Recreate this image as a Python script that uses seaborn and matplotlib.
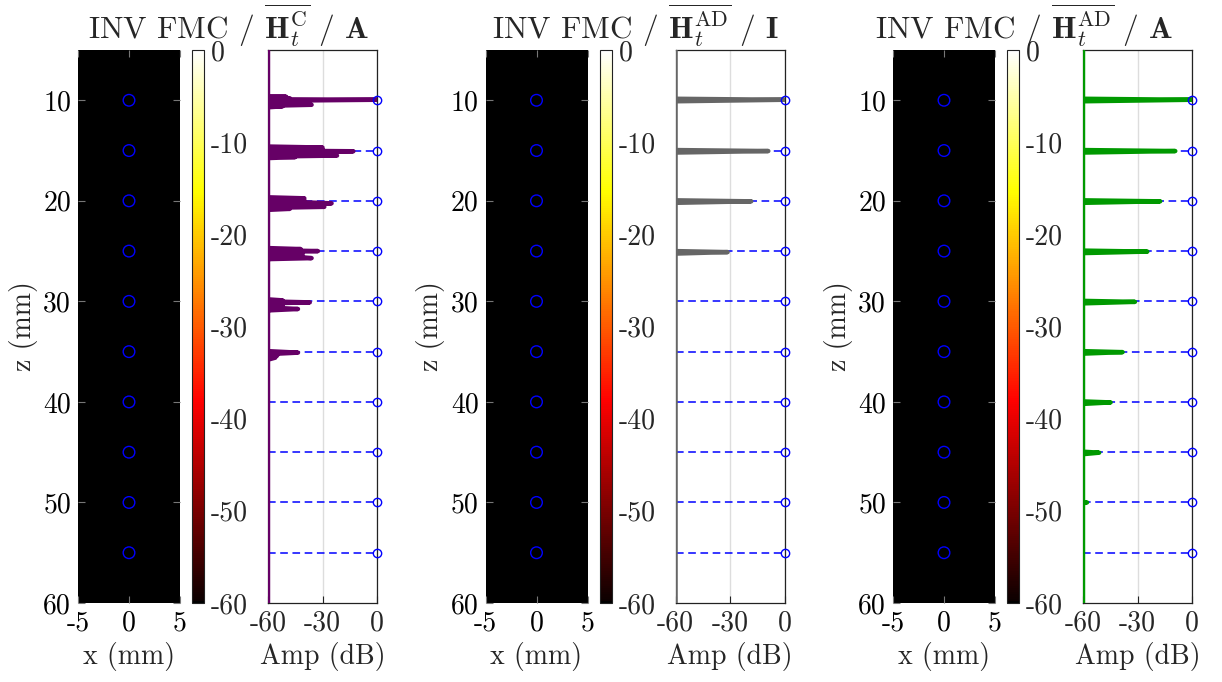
import numpy as np
import pandas as pd
import matplotlib
matplotlib.use("Agg")
import matplotlib.pyplot as plt
from matplotlib.colors import ListedColormap
import seaborn as sns

# ---------------- data ----------------
scatterer_z = [10, 15, 20, 25, 30, 35, 40, 45, 50, 55]
scatterer_x = [0] * len(scatterer_z)

titles = [
    r"INV FMC / $\overline{\mathbf{H}_t^{\mathrm{C}}}$ / $\mathbf{A}$",
    r"INV FMC / $\overline{\mathbf{H}_t^{\mathrm{AD}}}$ / $\mathbf{I}$",
    r"INV FMC / $\overline{\mathbf{H}_t^{\mathrm{AD}}}$ / $\mathbf{A}$",
]
profile_colors = ["#660066", "#666666", "#009900"]

# panel 1 profile (z in mm, amplitude in dB)
p1_z = [5.0, 9.6, 9.65, 9.7, 9.8, 9.9, 9.95, 10.05, 10.15, 10.25, 10.35, 10.45, 10.55, 10.6, 10.7,
        14.6, 14.7, 14.8, 14.9, 15.0, 15.07, 15.2, 15.3, 15.4, 15.5, 15.6, 15.65, 15.75,
        19.65, 19.75, 19.85, 19.95, 20.05, 20.15, 20.25, 20.35, 20.45, 20.6, 20.7, 20.8, 20.9,
        24.7, 24.8, 24.9, 25.0, 25.1, 25.2, 25.3, 25.4, 25.5, 25.6, 25.7, 25.8, 25.9,
        29.8, 29.9, 30.0, 30.1, 30.2, 30.3, 30.4, 30.5, 30.6, 30.76, 30.9, 31.0,
        34.95, 35.1, 35.25, 35.4, 35.5, 35.6, 35.8, 60.0]
p1_amp = [-60, -60, -50, -60, -48, -60, 0, -60, -50, -60, -52, -36, -60, -52, -60,
          -60, -30, -60, -30, -60, -13, -60, -30, -60, -22, -60, -45, -60,
          -60, -40, -60, -40, -60, -40, -25, -60, -40, -29, -60, -48, -60,
          -60, -42, -60, -32.5, -60, -41, -60, -41, -60, -42, -36, -60, -60,
          -60, -52, -60, -37, -60, -52, -60, -52, -60, -43.5, -60, -60,
          -60, -43.5, -60, -55, -60, -56, -60, -60]

# panel 2 profile
p2_z = [5.0, 9.85, 9.95, 10.1, 14.95, 15.05, 15.2, 19.95, 20.05, 20.2, 25.0, 25.1, 25.25, 60.0]
p2_amp = [-60, -60, 0, -60, -60, -8.9, -60, -60, -18.3, -60, -60, -31.3, -60, -60]

# panel 3 profile
p3_z = [5.0, 9.85, 9.95, 10.1, 14.95, 15.05, 15.2, 19.95, 20.05, 20.2, 24.95, 25.05, 25.2,
        29.95, 30.05, 30.2, 34.95, 35.05, 35.2, 39.95, 40.05, 40.2, 44.95, 45.05, 45.2,
        49.95, 50.0, 50.1, 60.0]
p3_amp = [-60, -60, 0, -60, -60, -9.2, -60, -60, -17.5, -60, -60, -24.6, -60,
          -60, -31.4, -60, -60, -38.2, -60, -60, -44.8, -60, -60, -51.1, -60,
          -60, -57.8, -60, -60]

profiles = [(p1_z, p1_amp), (p2_z, p2_amp), (p3_z, p3_amp)]

image_floor_db = -60.0
image_x_extent = [-5, 5]
image_z_extent = [5, 60]

cbar_ticks = [-60, -50, -40, -30, -20, -10, 0]
amp_ticks = [-60, -30, 0]
z_ticks = [10, 20, 30, 40, 50, 60]
x_ticks = [-5, 0, 5]

# ---------------- style ----------------
sns.set_theme(style="white")
plt.rcParams.update({
    "font.family": ["cmr10", "DejaVu Serif"],
    "mathtext.fontset": "cm",
    "axes.unicode_minus": False,
    "axes.formatter.use_mathtext": False,
    "xtick.direction": "in",
    "ytick.direction": "in",
})

hot_cols = plt.get_cmap("hot")(np.linspace(0, 1, 256))
hot_cols[0] = [0, 0, 0, 1]
hot_black = ListedColormap(hot_cols)

fig = plt.figure(figsize=(12.22, 6.82), dpi=100)
W, H = 1222.0, 682.0
top_px, bot_px = 50.0, 603.0
bottom = 1 - bot_px / H
height = (bot_px - top_px) / H

tick_fs = 20
label_fs = 20
title_fs = 22.5

offsets = [0, 407.5, 815]
title_centers = [229, 636, 1024]

for k in range(3):
    off = offsets[k]
    ax_img = fig.add_axes([(78 + off) / W, bottom, 102 / W, height])
    cax = fig.add_axes([(192 + off) / W, bottom, 12 / W, height])
    ax_p = fig.add_axes([(268 + off) / W, bottom, 109 / W, height])

    # image
    nz = int(image_z_extent[1] - image_z_extent[0]) + 1
    nx = int(image_x_extent[1] - image_x_extent[0]) + 1
    img = np.full((nz, nx), image_floor_db)
    im = ax_img.imshow(img, extent=[image_x_extent[0], image_x_extent[1],
                                    image_z_extent[1], image_z_extent[0]],
                       cmap=hot_black, vmin=-60, vmax=0, aspect="auto",
                       interpolation="nearest")
    sns.scatterplot(x=scatterer_x, y=scatterer_z, ax=ax_img, marker="o",
                    facecolor="none", edgecolor="blue", s=70, linewidth=1.0,
                    zorder=3)
    ax_img.set_xlim(image_x_extent)
    ax_img.set_ylim(image_z_extent[1], image_z_extent[0])
    ax_img.set_xticks(x_ticks, labels=[str(v) for v in x_ticks])
    ax_img.set_yticks(z_ticks, labels=[str(v) for v in z_ticks])
    ax_img.tick_params(axis="both", which="both", direction="in", length=5,
                       color="#777777", labelcolor="black", labelsize=tick_fs,
                       top=True, right=True, bottom=True, left=True, width=0.8,
                       pad=5)
    ax_img.set_xlabel("x (mm)", fontsize=label_fs, labelpad=4)
    ax_img.set_ylabel("z (mm)", fontsize=label_fs, labelpad=4)
    for s in ax_img.spines.values():
        s.set_visible(False)

    # colorbar
    cb = fig.colorbar(im, cax=cax)
    cb.set_ticks(cbar_ticks, labels=[str(v) for v in cbar_ticks])
    cax.tick_params(direction="in", length=4, labelsize=tick_fs, color="#333333",
                    left=True, right=True, width=0.6, pad=5)
    cb.outline.set_linewidth(0.8)
    cb.outline.set_edgecolor("#222222")

    # profile
    pz, pa = profiles[k]
    ax_p.hlines(scatterer_z, -60, 0, colors="blue", linestyles=(0, (5, 3)),
                lw=1.1, zorder=1)
    sns.lineplot(x=pa, y=pz, sort=False, estimator=None, ax=ax_p,
                 color=profile_colors[k], lw=3.2, zorder=3)
    ax_p.plot([0] * len(scatterer_z), scatterer_z, "o", mfc="none", mec="blue",
              ms=6, mew=1.0, clip_on=False, zorder=5)
    ax_p.set_xlim(-60, 0)
    ax_p.set_ylim(60, 5)
    ax_p.set_xticks(amp_ticks, labels=[str(v) for v in amp_ticks])
    ax_p.set_yticks([])
    ax_p.tick_params(axis="x", direction="in", length=5, labelsize=tick_fs,
                     color="#222222", bottom=True, top=False, width=0.8, pad=5)
    ax_p.grid(True, axis="x", color="#dddddd", lw=1.0, zorder=0)
    ax_p.set_axisbelow(True)
    ax_p.set_xlabel("Amp (dB)", fontsize=label_fs, labelpad=4)
    for s in ax_p.spines.values():
        s.set_visible(True)
        s.set_color("#222222")
        s.set_linewidth(0.9)

    fig.text((title_centers[k]) / W, 1 - 2 / H, titles[k], ha="center",
             va="top", fontsize=title_fs)

fig.savefig("out.png", dpi=100)
